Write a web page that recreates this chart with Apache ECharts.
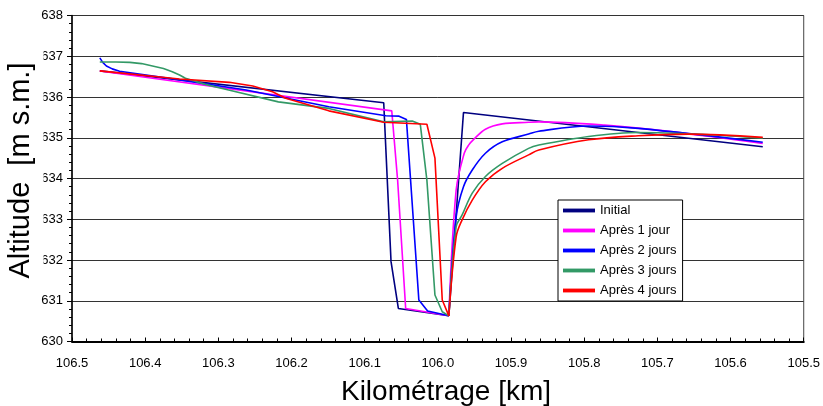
<!DOCTYPE html>
<html>
<head>
<meta charset="utf-8">
<script src="https://cdn.jsdelivr.net/npm/echarts@6/dist/echarts.min.js"></script>
<style>html,body{margin:0;padding:0;background:#fff}#c{width:823px;height:406px}</style>
</head>
<body>
<div id="c"></div>
<script>
// Series names
var seriesNames = ['Initial', 'Après 1 jour', 'Après 2 jours', 'Après 3 jours', 'Après 4 jours'];
// x-axis: Kilométrage [km], y: Altitude [m s.m.]
var xTicks = [106.5, 106.4, 106.3, 106.2, 106.1, 106.0, 105.9, 105.8, 105.7, 105.6, 105.5];
var yTicks = [630, 631, 632, 633, 634, 635, 636, 637, 638];

var initial = [
  [106.462, 636.64], [106.074, 635.86], [106.064, 631.96], [106.054, 630.81],
  [105.985, 630.63], [105.965, 635.62], [105.556, 634.78]
];
var apres1 = [
  [106.462, 636.64], [106.063, 635.66], [106.055, 633.96], [106.044, 630.81],
  [105.985, 630.63], [105.975, 633.72], [105.964, 634.62], [105.958, 634.82],
  [105.951, 634.96], [105.935, 635.21], [105.912, 635.34], [105.876, 635.38],
  [105.862, 635.39], [105.772, 635.31], [105.681, 635.15], [105.556, 634.86]
];
var apres2 = [
  [106.462, 636.96], [106.458, 636.85], [106.453, 636.76], [106.445, 636.69],
  [106.435, 636.63], [106.353, 636.42],
  [106.262, 636.17], [106.149, 635.76], [106.071, 635.54], [106.053, 635.53],
  [106.043, 635.45], [106.026, 631.02], [106.014, 630.75], [105.985, 630.63],
  [105.975, 633.06], [105.965, 633.80], [105.953, 634.21], [105.935, 634.62],
  [105.912, 634.90], [105.876, 635.09], [105.862, 635.16], [105.794, 635.29],
  [105.726, 635.23], [105.556, 634.89]
];
var apres3 = [
  [106.462, 636.86], [106.440, 636.86], [106.421, 636.85], [106.405, 636.82],
  [106.390, 636.76], [106.375, 636.70], [106.363, 636.62], [106.353, 636.54],
  [106.345, 636.46], [106.318, 636.31], [106.286, 636.17], [106.218, 635.88], [106.149, 635.72],
  [106.074, 635.39], [106.035, 635.41], [106.024, 635.33], [106.015, 633.96],
  [106.004, 631.14], [105.994, 630.73], [105.985, 630.63], [105.975, 632.82],
  [105.967, 633.10], [105.953, 633.64], [105.935, 634.05], [105.912, 634.37],
  [105.876, 634.74], [105.862, 634.82], [105.794, 635.03], [105.726, 635.13],
  [105.635, 635.08], [105.556, 634.99]
];
var apres4 = [
  [106.462, 636.64], [106.353, 636.44], [106.285, 636.36], [106.253, 636.27],
  [106.226, 636.13], [106.208, 635.97], [106.149, 635.66], [106.074, 635.38],
  [106.015, 635.33], [106.004, 634.50], [105.994, 631.02], [105.985, 630.63],
  [105.975, 632.57], [105.967, 632.98], [105.953, 633.47], [105.935, 633.92],
  [105.912, 634.25], [105.876, 634.58], [105.862, 634.70], [105.794, 634.95],
  [105.726, 635.05], [105.658, 635.09], [105.556, 635.01]
];
var allData = [initial, apres1, apres2, apres3, apres4];
var colors = ['#000080', '#FF00FF', '#0000FF', '#339966', '#FF0000'];

var FONT = '"Liberation Sans", Arial, sans-serif';
var chart = echarts.init(document.getElementById('c'), null, {renderer: 'canvas'});

var series = [];
seriesNames.forEach(function (n, i) {
  var d = allData[i];
  // split at the lowest point: the falling part is drawn sharp, the recovery smooth
  var lo = 0;
  d.forEach(function (p, k) { if (p[1] < d[lo][1]) lo = k; });
  var smoothRise = i !== 0;
  var z = 2 + (i === 4 ? 1 : 0);
  series.push({
    name: n, type: 'line', data: d.slice(0, lo + 1), symbol: 'none', smooth: false,
    lineStyle: {color: colors[i], width: 1.6}, itemStyle: {color: colors[i]}, z: z
  });
  series.push({
    name: n, type: 'line', data: d.slice(lo), symbol: 'none',
    smooth: smoothRise ? 0.35 : false,
    lineStyle: {color: colors[i], width: 1.6}, itemStyle: {color: colors[i]}, z: z
  });
});

chart.setOption({
  animation: false,
  backgroundColor: '#fff',
  textStyle: {fontFamily: FONT},
  grid: {left: 72, right: 17, top: 15.5, bottom: 64.5, containLabel: false,
         show: true, borderColor: '#444', borderWidth: 1, backgroundColor: 'transparent'},
  legend: {
    data: seriesNames, orient: 'vertical', left: 558, top: 200,
    backgroundColor: '#fff', borderColor: '#000', borderWidth: 1,
    padding: [4, 6, 4, 5], itemWidth: 32, itemHeight: 14, itemGap: 7,
    textStyle: {fontFamily: FONT, fontSize: 13, color: '#000'},
    icon: 'path://M0,0 L1,0 L1,0.12 L0,0.12 Z'
  },
  xAxis: {
    type: 'value', inverse: true, min: 105.5, max: 106.5, interval: 0.1,
    axisLine: {show: true, onZero: false, lineStyle: {color: '#000', width: 2}},
    axisTick: {show: true, inside: true, length: 4, lineStyle: {color: '#000'}},
    minorTick: {show: true, splitNumber: 5, length: 3, lineStyle: {color: '#000'}},
    axisLabel: {fontFamily: FONT, fontSize: 13, color: '#000', margin: 15,
                formatter: function (v) { return v.toFixed(1); }},
    splitLine: {show: false}
  },
  yAxis: {
    type: 'value', min: 630, max: 638, interval: 1,
    axisLine: {show: true, onZero: false, lineStyle: {color: '#000', width: 1.5}},
    axisTick: {show: true, inside: false, length: 5, lineStyle: {color: '#000'}},
    minorTick: {show: true, splitNumber: 5, length: 3, lineStyle: {color: '#000'}},
    axisLabel: {fontFamily: FONT, fontSize: 13, color: '#000', margin: 9},
    splitLine: {show: true, lineStyle: {color: '#333', width: 1}}
  },
  graphic: [
    {type: 'rect', z: 100, shape: {x: 4, y: 50, width: 39.5, height: 234}, style: {fill: '#fff'}},
    {type: 'text', z: 101, x: 21, y: 170.5, rotation: Math.PI / 2,
     style: {text: 'Altitude  [m s.m.]', font: '29px ' + FONT, fill: '#000',
             textAlign: 'center', textVerticalAlign: 'middle'}},
    {type: 'text', z: 101, x: 446, y: 392,
     style: {text: 'Kilométrage [km]', font: '28px ' + FONT, fill: '#000',
             textAlign: 'center', textVerticalAlign: 'middle'}}
  ],
  series: series
});
</script>
</body>
</html>
